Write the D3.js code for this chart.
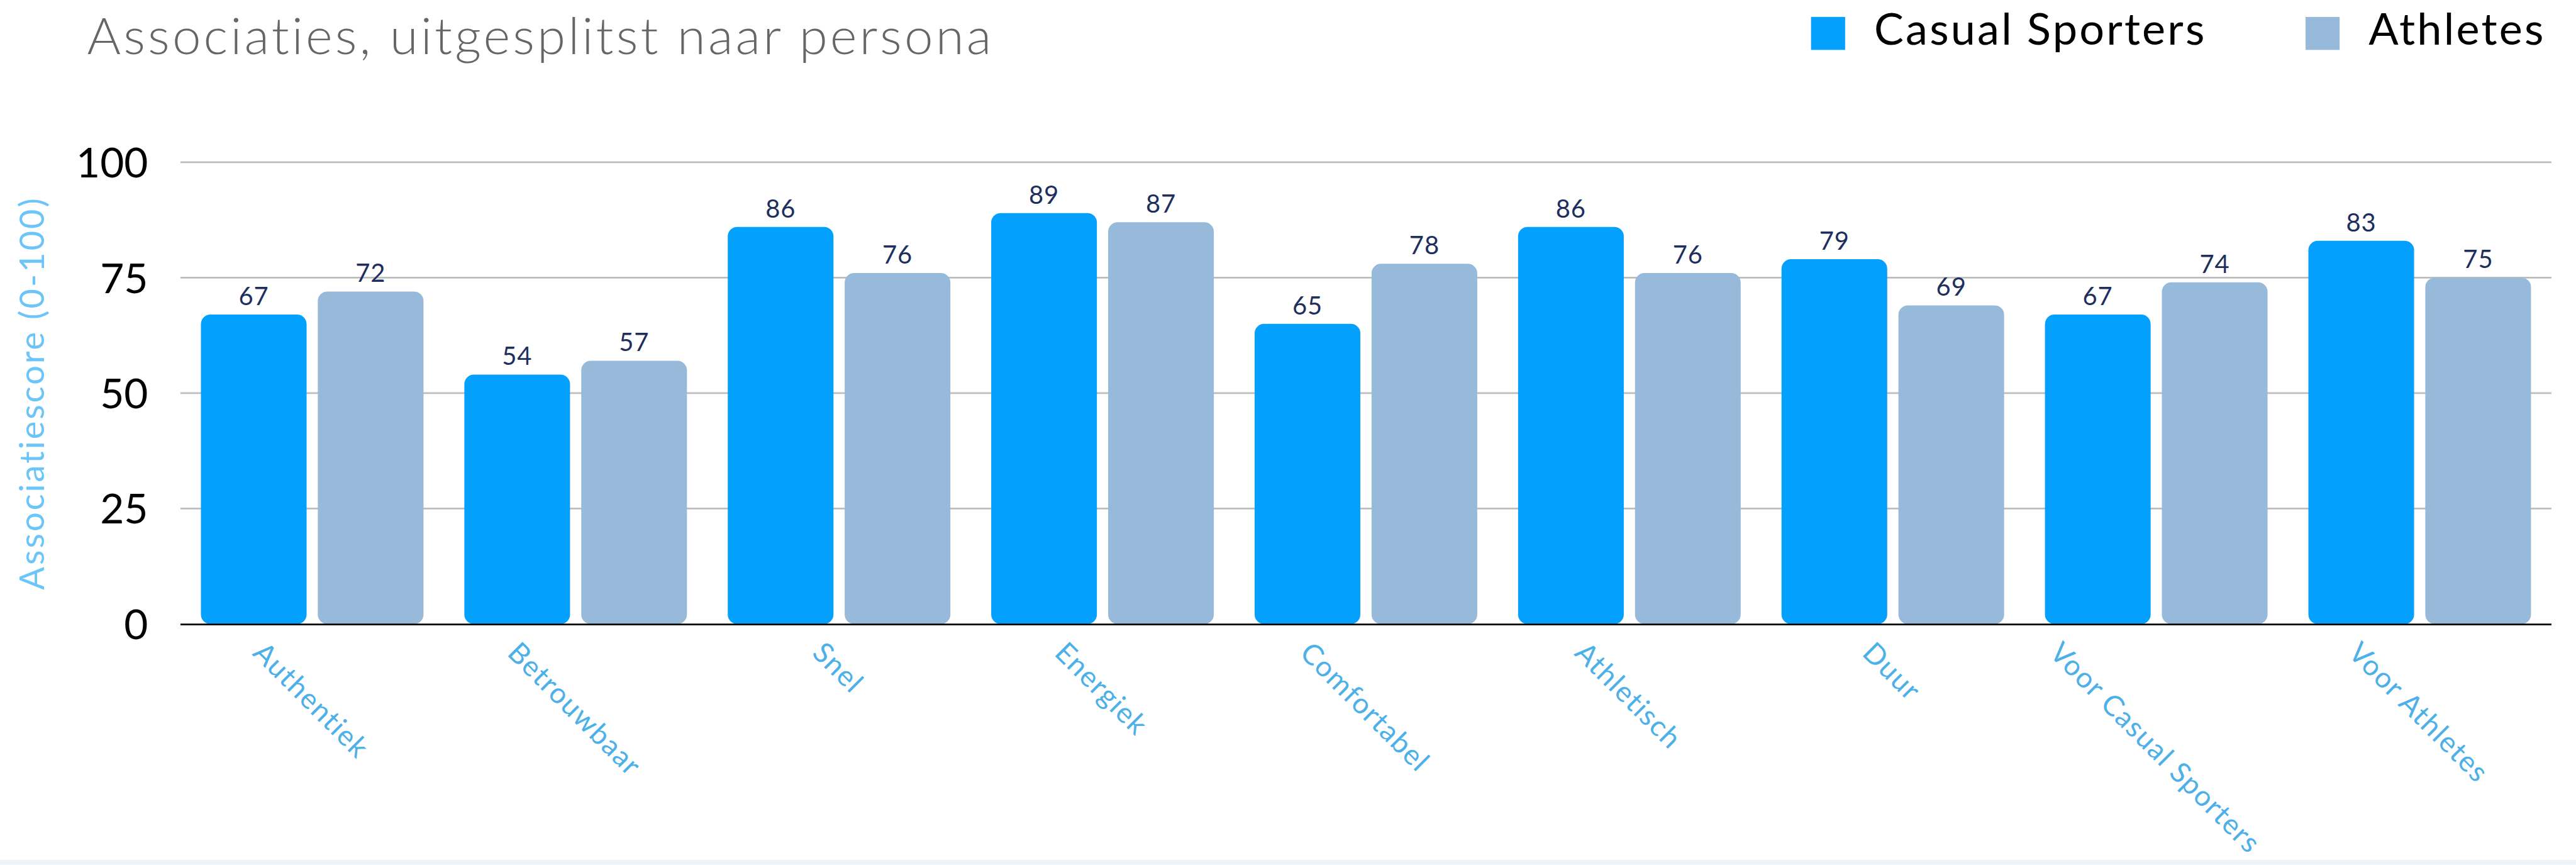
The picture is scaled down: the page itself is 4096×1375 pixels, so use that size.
<!DOCTYPE html>
<html>
<head>
<meta charset="utf-8">
<script src="https://cdn.jsdelivr.net/npm/d3@7"></script>
<style>
  html, body { margin: 0; padding: 0; background: #fff; }
  svg { display: block; }
  text { font-variant-ligatures: none; font-feature-settings: "liga" 0; }
</style>
</head>
<body>
<svg id="chart"></svg>
<script>
// Chart data
const categories = ["Authentiek", "Betrouwbaar", "Snel", "Energiek", "Comfortabel",
  "Athletisch", "Duur", "Voor Casual Sporters", "Voor Athletes"];
const seriesNames = ["Casual Sporters", "Athletes"];
const casualValues = [67, 54, 86, 89, 65, 86, 79, 67, 83];
const athleteValues = [72, 57, 76, 87, 78, 76, 69, 74, 75];
const yTicks = [0, 25, 50, 75, 100];

const colors = { "Casual Sporters": "#03a0fd", "Athletes": "#97b9da" };
const font = "Lato, 'Noto Sans', sans-serif";

// Reference drawn in its own coordinates, scaled to the window by the viewBox
const W = 4610, H = 1547;
const svg = d3.select("#chart")
  .attr("width", 4096)
  .attr("height", 1375)
  .attr("viewBox", `0 0 ${W} ${H}`);

const plot = { left: 323, right: 4566, top: 290, bottom: 1116 };

const x0 = d3.scaleBand()
  .domain(categories)
  .range([plot.left, plot.right])
  .paddingInner(0.155)
  .paddingOuter(0.0775);

const x1 = d3.scaleBand()
  .domain(seriesNames)
  .range([0, x0.bandwidth()])
  .paddingInner(0.096);

const y = d3.scaleLinear()
  .domain([0, 100])
  .range([plot.bottom, plot.top]);

// Title
svg.append("text")
  .attr("x", 156)
  .attr("y", 97)
  .attr("font-family", font)
  .attr("font-weight", 300)
  .attr("font-size", 92)
  .attr("letter-spacing", 4.6)
  .attr("fill", "#666")
  .text("Associaties, uitgesplitst naar persona");

// Legend
const legendItems = [
  { name: "Casual Sporters", x: 3241 },
  { name: "Athletes", x: 4126 }
];
const legend = svg.selectAll("g.legend")
  .data(legendItems)
  .enter().append("g")
  .attr("class", "legend")
  .attr("transform", d => `translate(${d.x},0)`);
legend.append("rect")
  .attr("y", 30)
  .attr("width", 61)
  .attr("height", 59)
  .attr("fill", d => colors[d.name]);
legend.append("text")
  .attr("x", 113)
  .attr("y", 80)
  .attr("font-family", font)
  .attr("font-size", 79)
  .attr("letter-spacing", 3.6)
  .attr("fill", "#000")
  .text(d => d.name);

// Gridlines
svg.append("g")
  .selectAll("line")
  .data(yTicks.filter(t => t > 0))
  .enter().append("line")
  .attr("x1", plot.left)
  .attr("x2", plot.right)
  .attr("y1", d => y(d))
  .attr("y2", d => y(d))
  .attr("stroke", "#bdbdbd")
  .attr("stroke-width", 3);

// Y axis tick labels
const yAxis = d3.axisLeft(y).tickValues(yTicks).tickSize(0).tickPadding(0);
svg.append("g")
  .attr("transform", `translate(265,0)`)
  .call(yAxis)
  .call(g => g.select(".domain").remove())
  .call(g => g.selectAll("text")
    .attr("font-family", font)
    .attr("font-size", 74)
    .attr("fill", "#000")
    .attr("dy", "0.36em"));

// Y axis title
svg.append("text")
  .attr("transform", "translate(79,703) rotate(-90)")
  .attr("text-anchor", "middle")
  .attr("font-family", font)
  .attr("font-size", 61)
  .attr("letter-spacing", 3.4)
  .attr("fill", "#6cc5f8")
  .text("Associatiescore (0-100)");

// Bars
const rows = categories.map((c, i) => ({
  category: c,
  values: [
    { series: "Casual Sporters", value: casualValues[i] },
    { series: "Athletes", value: athleteValues[i] }
  ]
}));

const groups = svg.append("g")
  .selectAll("g")
  .data(rows)
  .enter().append("g")
  .attr("transform", d => `translate(${x0(d.category)},0)`);

groups.selectAll("rect")
  .data(d => d.values)
  .enter().append("rect")
  .attr("x", d => x1(d.series))
  .attr("y", d => y(d.value))
  .attr("width", x1.bandwidth())
  .attr("height", d => y(0) - y(d.value))
  .attr("rx", 17)
  .attr("ry", 17)
  .attr("fill", d => colors[d.series]);

// Value labels
groups.selectAll("text")
  .data(d => d.values)
  .enter().append("text")
  .attr("x", d => x1(d.series) + x1.bandwidth() / 2)
  .attr("y", d => y(d.value) - 17)
  .attr("text-anchor", "middle")
  .attr("font-family", font)
  .attr("font-size", 45)
  .attr("letter-spacing", 1)
  .attr("fill", "#1e2f5e")
  .text(d => d.value);

// Baseline
svg.append("line")
  .attr("x1", plot.left)
  .attr("x2", plot.right)
  .attr("y1", y(0) + 1)
  .attr("y2", y(0) + 1)
  .attr("stroke", "#000")
  .attr("stroke-width", 3);

// Rotated category labels, box centred on the group, top at a fixed line
const labelSize = 51;
const labelTop = 1143;
svg.append("g")
  .selectAll("text")
  .data(categories)
  .enter().append("text")
  .attr("text-anchor", "middle")
  .attr("dominant-baseline", "central")
  .attr("font-family", font)
  .attr("font-size", labelSize)
  .attr("letter-spacing", 2)
  .attr("fill", "#4db0e8")
  .text(d => d)
  .attr("transform", function(d) {
    const len = this.getComputedTextLength();
    const half = (len + labelSize * 0.75) * Math.SQRT1_2 / 2;
    const cx = x0(d) + x0.bandwidth() / 2;
    return `translate(${cx},${labelTop + half}) rotate(45)`;
  });

// Light strip along the bottom edge
svg.append("rect")
  .attr("x", 0)
  .attr("y", 1538)
  .attr("width", W)
  .attr("height", H - 1538)
  .attr("fill", "#eef5fa");
</script>
</body>
</html>
